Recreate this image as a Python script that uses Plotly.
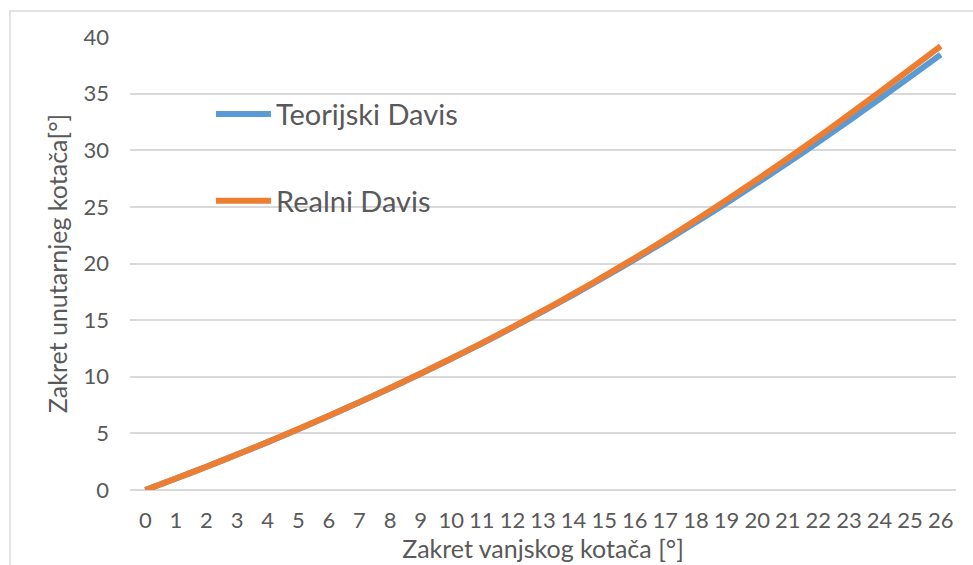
import plotly.graph_objects as go

# Outer wheel steering angle (degrees)
outer_angle = list(range(0, 27))

# Inner wheel steering angle (degrees)
teorijski_davis = [0, 1.01, 2.06, 3.13, 4.23, 5.37, 6.54, 7.75, 8.99, 10.27, 11.59,
                   12.94, 14.34, 15.78, 17.26, 18.79, 20.36, 21.98, 23.64, 25.35,
                   27.10, 28.89, 30.73, 32.61, 34.53, 36.48, 38.45]
realni_davis = [0, 1.01, 2.06, 3.13, 4.24, 5.38, 6.55, 7.76, 9.00, 10.29, 11.61,
                12.97, 14.38, 15.83, 17.33, 18.88, 20.48, 22.13, 23.84, 25.60,
                27.41, 29.27, 31.18, 33.14, 35.14, 37.17, 39.20]

series_names = ["Teorijski Davis", "Realni Davis"]
series_colors = ["#5B9BD5", "#ED7D31"]

y_ticks = [0, 5, 10, 15, 20, 25, 30, 35, 40]

FONT = "Lato"
TEXT = "#595959"
GRID = "#d9d9d9"

fig = go.Figure()
for i, (name, vals, col) in enumerate(zip(series_names, [teorijski_davis, realni_davis], series_colors)):
    fig.add_trace(go.Scatter(
        x=outer_angle, y=vals, mode="lines", name=name,
        legendgroup=f"g{i}",
        line=dict(color=col, width=6, shape="spline", smoothing=0.6),
    ))

fig.update_layout(
    width=973, height=565,
    margin=dict(l=130, r=17, t=37, b=75),
    paper_bgcolor="white", plot_bgcolor="white",
    font=dict(family=FONT, color=TEXT, size=22),
    showlegend=True,
    legend=dict(
        x=0.098, y=0.886, xanchor="left", yanchor="top",
        bgcolor="rgba(0,0,0,0)",
        font=dict(size=29, color=TEXT, family=FONT),
        itemwidth=55,
        traceorder="grouped",
        tracegroupgap=46,
    ),
    xaxis=dict(
        range=[-0.5, 26.5], tickmode="array", tickvals=outer_angle,
        ticktext=[str(v) for v in outer_angle],
        showgrid=False, zeroline=False, showline=False,
        ticks="", ticklabelstandoff=15, automargin=False,
        tickfont=dict(size=22, color=TEXT),
        title=dict(text="Zakret vanjskog kotača [°]", standoff=5,
                   font=dict(size=25, color=TEXT)),
        fixedrange=True,
    ),
    yaxis=dict(
        range=[0, 40], tickvals=y_ticks,
        showgrid=True, gridcolor=GRID, gridwidth=1.5,
        zeroline=True, zerolinecolor=GRID, zerolinewidth=1.5,
        showline=False, ticks="", ticklabelstandoff=20, automargin=False,
        tickfont=dict(size=22, color=TEXT),
        title=dict(text="Zakret unutarnjeg kotača[°]", standoff=8,
                   font=dict(size=25, color=TEXT)),
        fixedrange=True,
    ),
    shapes=[dict(
        type="rect", xref="paper", yref="paper",
        x0=-0.1453, x1=1.04, y0=-0.19, y1=1.0574,
        line=dict(color=GRID, width=1.5), fillcolor="rgba(0,0,0,0)", layer="below",
    )],
)

fig.write_html("out.html")
